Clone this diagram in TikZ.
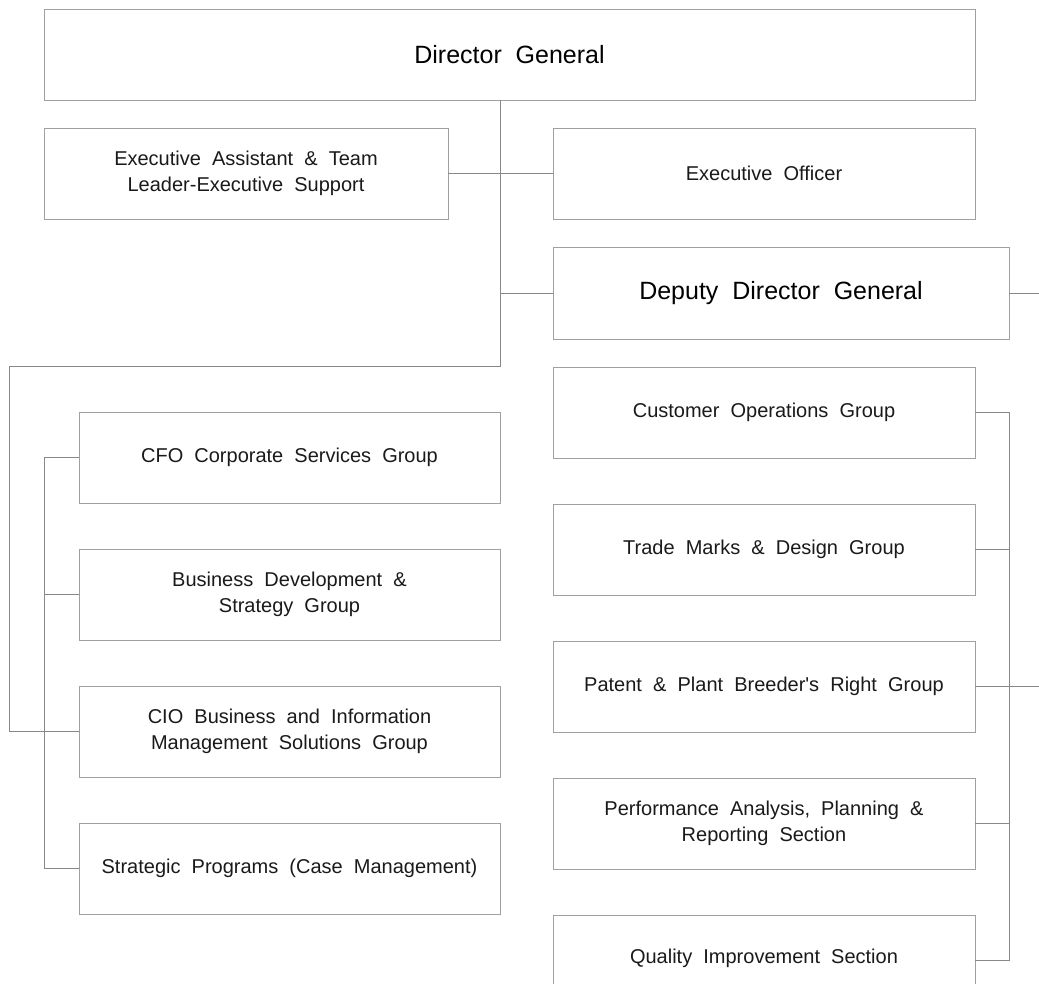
\documentclass[tikz,border=0pt]{standalone}
\usepackage{fontspec}
\setmainfont{Liberation Sans}[WordSpace=2, Ligatures=TeXOff]
\definecolor{boxgray}{HTML}{A0A0A0}
\definecolor{linegray}{HTML}{888888}
\definecolor{txt}{HTML}{1A1A1A}
\tikzset{
  box/.style={draw=boxgray, line width=0.9pt, rectangle, inner sep=0pt, outer sep=0pt,
    align=center, text=txt, font=\fontsize{20}{26}\selectfont, minimum height=91pt},
  bigbox/.style={box, text=black, font=\fontsize{25}{30}\selectfont},
  lbox/.style={box, minimum width=421pt},
  rbox/.style={box, minimum width=422pt},
  conn/.style={draw=linegray, line width=0.9pt}
}
\begin{document}
\begin{tikzpicture}[x=1pt,y=1pt]
\useasboundingbox (0,0) rectangle (1039,-984);
\clip (0,0) rectangle (1039,-984);
\fill[white] (0,0) rectangle (1039,-984);

% boxes
\node[bigbox, minimum width=931pt] (dg) at (509.5,-54.5) {Director General};
\node[box, minimum width=404pt] (ea) at (246,-173.5) {Executive Assistant \& Team\\Leader-Executive Support};
\node[rbox] (eo) at (764,-173.5) {Executive Officer};
\node[bigbox, minimum width=456pt, minimum height=92pt] (ddg) at (781,-293) {Deputy Director General};

\node[rbox] (co) at (764,-412.5) {Customer Operations Group};
\node[rbox] (tm) at (764,-549.5) {Trade Marks \& Design Group};
\node[rbox] (pt) at (764,-686.5) {Patent \& Plant Breeder's Right Group};
\node[rbox] (pa) at (764,-823.5) {Performance Analysis, Planning \&\\Reporting Section};
\node[rbox] (qi) at (764,-960.5) {\raisebox{8pt}{Quality Improvement Section}};

\node[lbox] (cfo) at (289.5,-457.5) {CFO Corporate Services Group};
\node[lbox] (bd) at (289.5,-594.5) {Business Development \&\\Strategy Group};
\node[lbox] (cio) at (289.5,-731.5) {CIO Business and Information\\Management Solutions Group};
\node[lbox] (sp) at (289.5,-868.5) {Strategic Programs (Case Management)};

% connector points
\coordinate (t0) at (500,-100);
\coordinate (t1) at (500,-366);
\coordinate (t2) at (9,-366);
\coordinate (lbus) at (44,0);
\coordinate (rbus) at (1009,0);
\coordinate (edge) at (1039,0);

% trunk from Director General
\draw[conn] (t0) -- (t1) -- (t2) |- (cio.west);
\draw[conn] (ea.east) -- (eo.west);
\draw[conn] (t0 |- ddg.west) -- (ddg.west);
\draw[conn] (ddg.east) -- (edge |- ddg.east);

% left bus
\draw[conn] (cfo.west) -- (lbus |- cfo.west) -- (lbus |- sp.west) -- (sp.west);
\draw[conn] (bd.west) -- (lbus |- bd.west);

% right bus
\draw[conn] (co.east) -- (rbus |- co.east) -- (rbus |- qi.east) -- (qi.east);
\draw[conn] (tm.east) -- (rbus |- tm.east);
\draw[conn] (pt.east) -- (edge |- pt.east);
\draw[conn] (pa.east) -- (rbus |- pa.east);
\end{tikzpicture}
\end{document}
